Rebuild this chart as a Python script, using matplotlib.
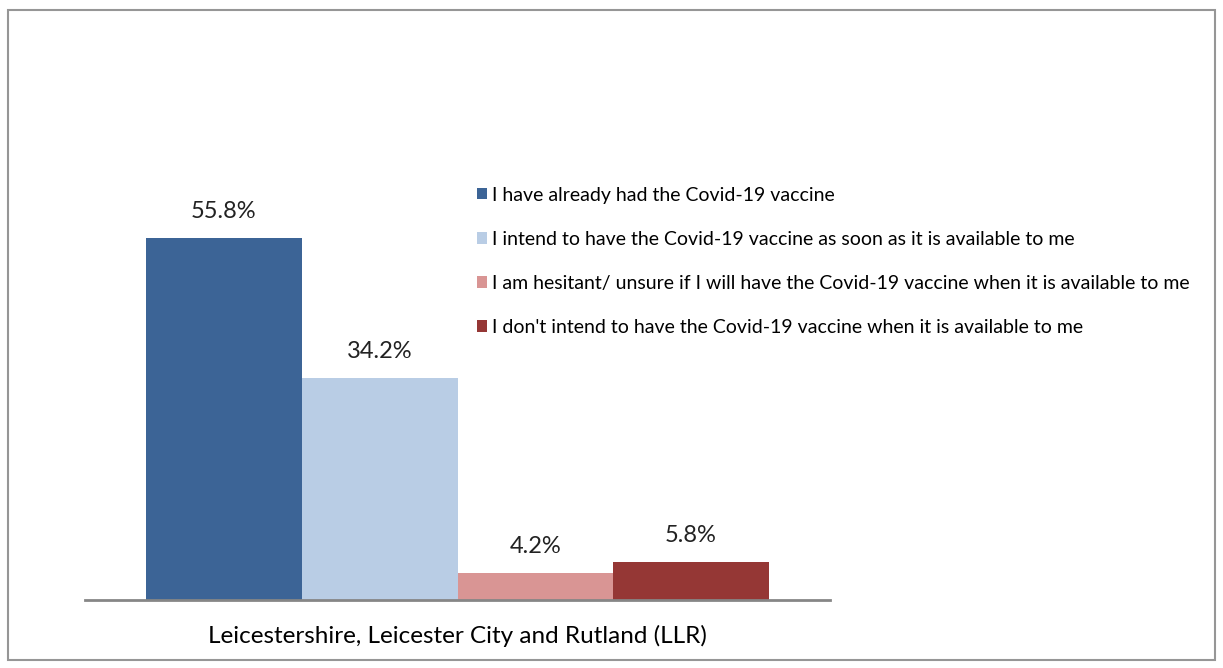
import matplotlib
matplotlib.use("Agg")
import matplotlib.pyplot as plt
from matplotlib.patches import Rectangle

category = "Leicestershire, Leicester City and Rutland (LLR)"
series_names = [
    "I have already had the Covid-19 vaccine",
    "I intend to have the Covid-19 vaccine as soon as it is available to me",
    "I am hesitant/ unsure if I will have the Covid-19 vaccine when it is available to me",
    "I don't intend to have the Covid-19 vaccine when it is available to me",
]
values = [55.8, 34.2, 4.2, 5.8]
colors = ["#3C6496", "#B9CDE5", "#D99594", "#953735"]

plt.rcParams["font.family"] = ["Lato", "DejaVu Sans"]

W, H = 1223, 668
fig = plt.figure(figsize=(W / 100, H / 100), dpi=100)

# axes: x 85..830, baseline at y=600, top at y=146
ax_left, ax_right = 85, 830
ax_bottom, ax_top = 600, 146
ax = fig.add_axes([ax_left / W, 1 - ax_bottom / H, (ax_right - ax_left) / W, (ax_bottom - ax_top) / H])

bw = 155.75 / (ax_right - ax_left)
offsets = [-1.5, -0.5, 0.5, 1.5]
handles = []
for name, v, c, o in zip(series_names, values, colors, offsets):
    b = ax.bar(o * bw, v, width=bw, color=c, label=name)
    handles.append(b)
    ax.annotate(f"{v:.1f}%", xy=(o * bw, v), xytext=(0, 19), textcoords="offset points",
                ha="center", va="center", fontsize=17, color="#222222")

ax.set_xlim(-0.5, 0.5)
ax.set_ylim(0, 70)
ax.set_yticks([])
ax.set_xticks([0])
ax.set_xticklabels([category], fontsize=17.5)
ax.tick_params(axis="x", length=0, pad=18)
for s in ["top", "right", "left"]:
    ax.spines[s].set_visible(False)
ax.spines["bottom"].set_color("#868686")
ax.spines["bottom"].set_linewidth(2)

leg = fig.legend(handles=handles, labels=series_names, loc="upper left",
                 bbox_to_anchor=(459 / W, 1 - 169 / H), frameon=False,
                 fontsize=14, handlelength=0.55, handleheight=0.55,
                 handletextpad=0.25, labelspacing=1.4)

fig.patches.append(Rectangle((8 / W, 1 - 660 / H), (1215 - 8) / W, (660 - 10) / H,
                             transform=fig.transFigure, fill=False,
                             edgecolor="#969696", linewidth=1.5))

fig.savefig("out.png", dpi=100)
